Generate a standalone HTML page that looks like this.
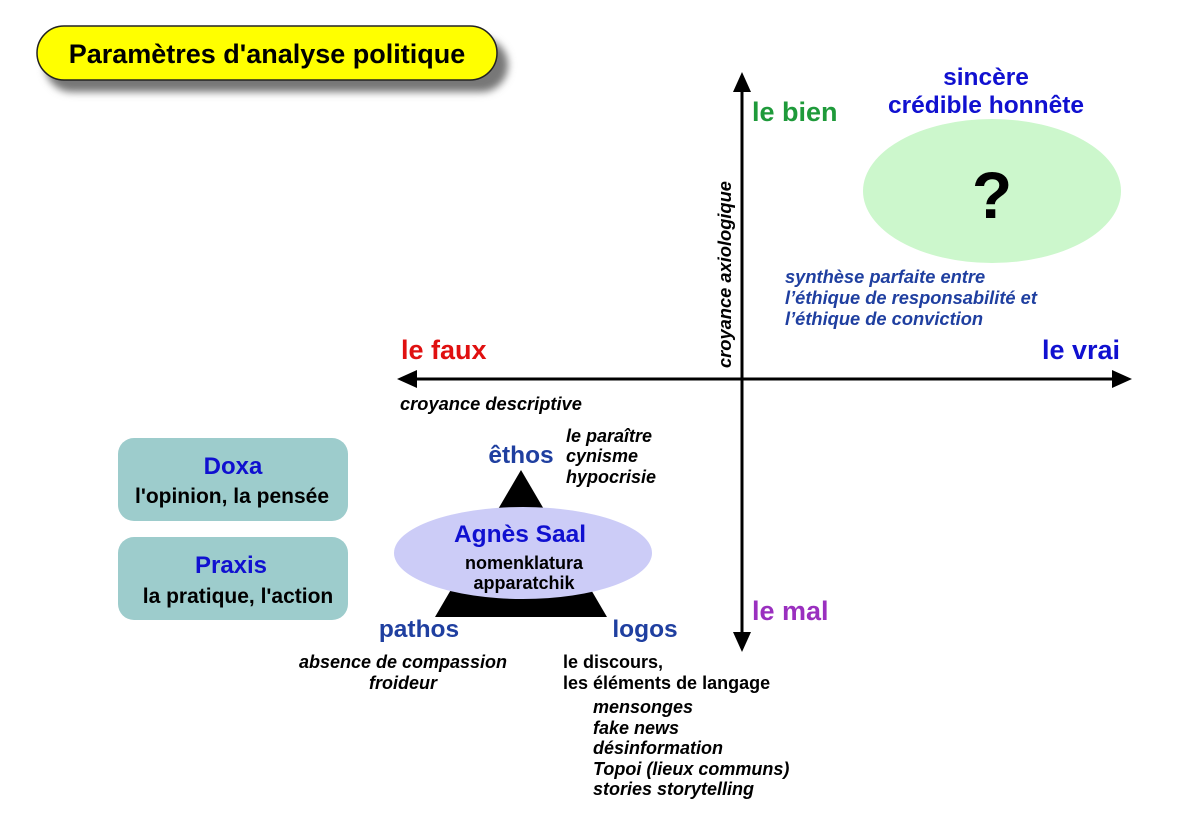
<!DOCTYPE html>
<html><head><meta charset="utf-8"><style>
body{margin:0;background:#fff}
svg{display:block;font-family:"Liberation Sans",sans-serif;font-weight:bold}
</style></head><body>
<svg width="1200" height="823" viewBox="0 0 1200 823">
<defs>
<filter id="sh" x="-10%" y="-30%" width="130%" height="190%"><feGaussianBlur stdDeviation="4"/></filter>
</defs>
<!-- title -->
<rect x="45" y="38" width="463" height="54" rx="27" fill="#777" filter="url(#sh)"/>
<rect x="37" y="26" width="460" height="54" rx="27" fill="#ffff00" stroke="#222" stroke-width="1.5"/>
<text x="267" y="63" font-size="27" text-anchor="middle">Paramètres d'analyse politique</text>
<!-- axes -->
<line x1="742" y1="92" x2="742" y2="635" stroke="#000" stroke-width="3"/>
<path d="M742,72 L733,92 L751,92z"/>
<path d="M742,652 L733,632 L751,632z"/>
<line x1="415" y1="379" x2="1115" y2="379" stroke="#000" stroke-width="3"/>
<path d="M397,379 L417,370 L417,388z"/>
<path d="M1132,379 L1112,370 L1112,388z"/>
<text x="752" y="121" font-size="27" fill="#1e9a3a">le bien</text>
<text x="752" y="620" font-size="27" fill="#9a2fbf">le mal</text>
<text x="401" y="359" font-size="27" fill="#e01010">le faux</text>
<text x="1120" y="359" font-size="27" fill="#1010d0" text-anchor="end">le vrai</text>
<text transform="translate(731,368) rotate(-90)" font-size="18.3" font-style="italic">croyance axiologique</text>
<text x="400" y="410" font-size="18.3" font-style="italic">croyance descriptive</text>
<!-- top right -->
<text x="986" y="85" font-size="24.5" fill="#1010d0" text-anchor="middle">sincère</text>
<text x="986" y="113" font-size="24.5" fill="#1010d0" text-anchor="middle">crédible honnête</text>
<ellipse cx="992" cy="191" rx="129" ry="72" fill="#ccf7cc"/>
<text x="992" y="218" font-size="66" text-anchor="middle">?</text>
<g font-size="18.3" font-style="italic" fill="#1f3fa0">
<text x="785" y="283">synthèse parfaite entre</text>
<text x="785" y="304">l’éthique de responsabilité et</text>
<text x="785" y="325">l’éthique de conviction</text>
</g>
<!-- left boxes -->
<rect x="118" y="438" width="230" height="83" rx="16" fill="#9dcccc"/>
<text x="233" y="474" font-size="24" fill="#1010d0" text-anchor="middle">Doxa</text>
<text x="232" y="503" font-size="21" text-anchor="middle">l'opinion, la pensée</text>
<rect x="118" y="537" width="230" height="83" rx="16" fill="#9dcccc"/>
<text x="231" y="573" font-size="24" fill="#1010d0" text-anchor="middle">Praxis</text>
<text x="238" y="603" font-size="21" text-anchor="middle">la pratique, l'action</text>
<!-- triangle -->
<path d="M521,470 L435,617 L607,617z"/>
<ellipse cx="523" cy="553" rx="129" ry="46" fill="#ccccf7"/>
<text x="520" y="542" font-size="24.5" fill="#1010d0" text-anchor="middle">Agnès Saal</text>
<text x="524" y="569" font-size="18" text-anchor="middle">nomenklatura</text>
<text x="524" y="589" font-size="18" text-anchor="middle">apparatchik</text>
<text x="521" y="463" font-size="24.5" fill="#1f3fa0" text-anchor="middle">êthos</text>
<text x="419" y="637" font-size="24.5" fill="#1f3fa0" text-anchor="middle">pathos</text>
<text x="645" y="637" font-size="24.5" fill="#1f3fa0" text-anchor="middle">logos</text>
<g font-size="18" font-style="italic">
<text x="566" y="442">le paraître</text>
<text x="566" y="462">cynisme</text>
<text x="566" y="483">hypocrisie</text>
<text x="403" y="668" text-anchor="middle">absence de compassion</text>
<text x="403" y="689" text-anchor="middle">froideur</text>
<text x="593" y="713">mensonges</text>
<text x="593" y="734">fake news</text>
<text x="593" y="754">désinformation</text>
<text x="593" y="775">Topoi (lieux communs)</text>
<text x="593" y="795">stories storytelling</text>
</g>
<text x="563" y="668" font-size="18">le discours,</text>
<text x="563" y="689" font-size="18">les éléments de langage</text>
</svg>
</body></html>
